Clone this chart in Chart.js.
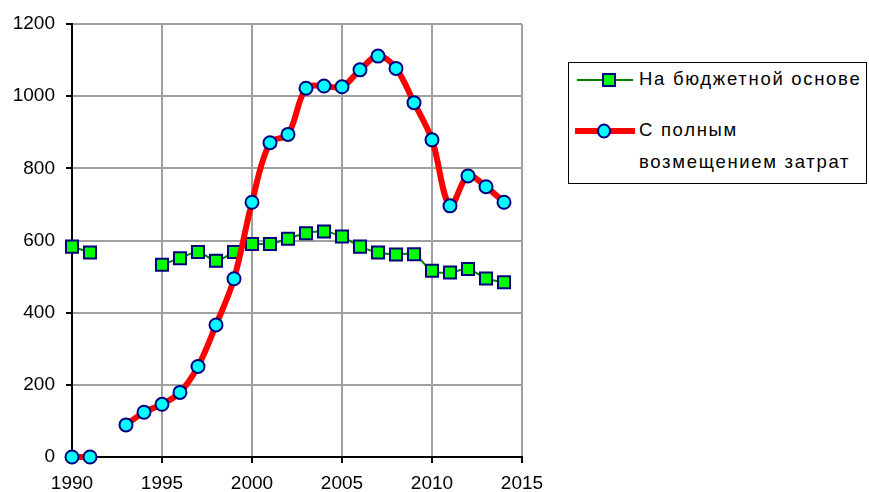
<!DOCTYPE html>
<html><head><meta charset="utf-8">
<script src="https://cdn.jsdelivr.net/npm/chart.js@4/dist/chart.umd.min.js"></script>
<style>
html,body{margin:0;padding:0;background:#fff;}
#wrap{position:relative;width:869px;height:492px;}
#legend{position:absolute;left:568px;top:62px;width:297px;height:120px;border:1px solid #000;background:#fff;font-family:"Liberation Sans",Arial,sans-serif;font-size:18.5px;color:#000;}
.txt{position:absolute;left:70px;white-space:nowrap;letter-spacing:1.7px;}
svg{position:absolute;left:0;top:0;}
</style></head>
<body><div id="wrap"><canvas id="c" width="869" height="492"></canvas>
<div id="legend">
<svg width="80" height="120">
<line x1="8" y1="17" x2="64" y2="17" stroke="#008000" stroke-width="2"/>
<rect x="34" y="11" width="12" height="12" fill="#00ff00" stroke="#000080" stroke-width="2"/>
<line x1="6" y1="68" x2="66" y2="68" stroke="#ff0000" stroke-width="6"/>
<ellipse cx="35" cy="68" rx="6" ry="6.5" fill="#00ffff" stroke="#000080" stroke-width="2"/>
</svg>
<div class="txt" style="top:5px">На бюджетной основе</div>
<div class="txt" style="top:56px">С полным</div>
<div class="txt" style="top:88px">возмещением затрат</div>
</div></div>
<script>
const years = [1990,1991,1992,1993,1994,1995,1996,1997,1998,1999,2000,2001,2002,2003,2004,2005,2006,2007,2008,2009,2010,2011,2012,2013,2014];
const budgetBased = [583,567,null,null,null,533,551,568,544,568,590,590,605,620,625,611,583,567,561,562,516,511,521,495,484];
const fullCost = [0,0,null,89,124,146,179,251,366,494,706,871,894,1022,1028,1026,1073,1111,1077,982,879,696,779,749,706];
const xTicks = [1990,1995,2000,2005,2010,2015];
const yTicks = [0,200,400,600,800,1000,1200];
const seriesNames = ["На бюджетной основе","С полным возмещением затрат"];

const toPts = arr => years.map((y,i)=>({x:y,y:arr[i]}));
const font = {family:"Liberation Sans, Arial, sans-serif", size:19};

new Chart(document.getElementById('c'),{
  type:'line',
  data:{datasets:[
    {label:seriesNames[1],data:toPts(fullCost),borderColor:'#ff0000',borderWidth:6,tension:0.35,
     pointStyle:'circle',pointRadius:6.5,pointBackgroundColor:'#00ffff',pointBorderColor:'#000080',pointBorderWidth:2,
     spanGaps:false,order:0,clip:false},
    {label:seriesNames[0],data:toPts(budgetBased),borderColor:'#008000',borderWidth:2,tension:0.3,
     pointStyle:'rect',pointRadius:8.5,pointBackgroundColor:'#00ff00',pointBorderColor:'#000080',pointBorderWidth:2,
     spanGaps:false,order:1,clip:false}
  ]},
  options:{
    responsive:false,animation:false,
    layout:{padding:{left:0,top:24,right:347,bottom:0}},
    plugins:{legend:{display:false},tooltip:{enabled:false}},
    scales:{
      x:{type:'linear',min:1990,max:2015,
         afterBuildTicks:s=>{s.ticks=xTicks.map(v=>({value:v}));},
         afterFit:s=>{s.height=35;},
         ticks:{font:font,color:'#000',padding:9,maxRotation:0,callback:v=>String(v)},
         grid:{color:'#a0a0a0',lineWidth:2,tickColor:'#000',tickLength:6},
         border:{color:'#000',width:2}},
      y:{min:0,max:1200,
         afterBuildTicks:s=>{s.ticks=yTicks.map(v=>({value:v}));},
         afterFit:s=>{s.width=72;},
         ticks:{font:font,color:'#000',padding:11,callback:v=>String(v)},
         grid:{color:'#a0a0a0',lineWidth:2,tickColor:'#000',tickLength:6},
         border:{color:'#000',width:2}}
    }
  }
});
</script></body></html>
